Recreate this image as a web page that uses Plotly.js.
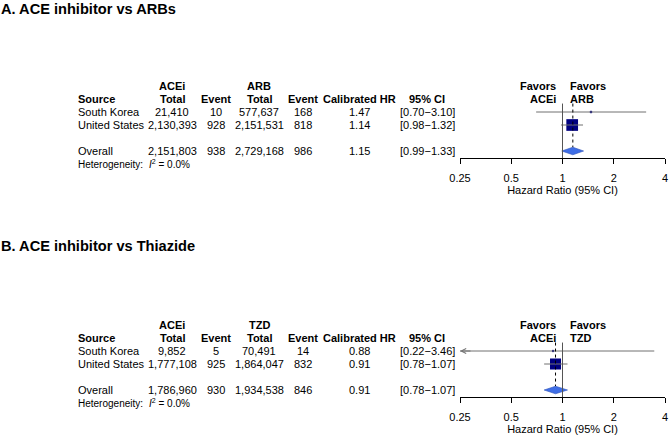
<!DOCTYPE html>
<html><head><meta charset="utf-8">
<script src="https://cdn.plot.ly/plotly-3.0.1.min.js"></script>
<style>html,body{margin:0;padding:0;background:#fff}</style>
</head><body><div id="chart" style="width:669px;height:436px"></div>
<script>
// ---------------- DATA ----------------
const panelTitles = ['A. ACE inhibitor vs ARBs', 'B. ACE inhibitor vs Thiazide'];
const comparators = ['ARB', 'TZD'];
const sources = ['South Korea', 'United States'];
const overallLabel = 'Overall';

// Panel A: ACEi vs ARB
const aceTotalA = [21410, 2130393];
const aceEventA = [10, 928];
const cmpTotalA = [577637, 2151531];
const cmpEventA = [168, 818];
const hrA = [1.47, 1.14];
const loA = [0.70, 0.98];
const hiA = [3.10, 1.32];
const overallA = {aceTotal: 2151803, aceEvent: 938, cmpTotal: 2729168, cmpEvent: 986, hr: 1.15, lo: 0.99, hi: 1.33, i2: 0.0};

// Panel B: ACEi vs Thiazide
const aceTotalB = [9852, 1777108];
const aceEventB = [5, 925];
const cmpTotalB = [70491, 1864047];
const cmpEventB = [14, 832];
const hrB = [0.88, 0.91];
const loB = [0.22, 0.78];
const hiB = [3.46, 1.07];
const overallB = {aceTotal: 1786960, aceEvent: 930, cmpTotal: 1934538, cmpEvent: 846, hr: 0.91, lo: 0.78, hi: 1.07, i2: 0.0};

const tickVals = [0.25, 0.5, 1, 2, 4];
const tickText = ['0.25', '0.5', '1', '2', '4'];
const nullValue = 1;

// ---------------- LAYOUT CONSTANTS ----------------
const W = 669, H = 436;
const FONT = 'Liberation Sans, Arial, Helvetica, sans-serif';
const rowH = 13;
const row0Px = [112, 351];
const titleTopPx = [0, 237];
const colX = {source: 76, aceTotal: 172, aceEvent: 216, cmpTotal: 259, cmpEvent: 302.5, hr: 359, ci: 427.5, het2: 146.5};
const plotLeft = 460, plotRight = 665;
const topOff = 32, axisOff = 46, botOff = 62;

const panels = [
  {aceTotal: aceTotalA, aceEvent: aceEventA, cmpTotal: cmpTotalA, cmpEvent: cmpEventA, hr: hrA, lo: loA, hi: hiA, overall: overallA},
  {aceTotal: aceTotalB, aceEvent: aceEventB, cmpTotal: cmpTotalB, cmpEvent: cmpEventB, hr: hrB, lo: loB, hi: hiB, overall: overallB}
];

const fmtN = v => v.toLocaleString('en-US');
const fmtCI = (l, h) => '[' + l.toFixed(2) + '\u2212' + h.toFixed(2) + ']';
const px = x => x / W;

const traces = [];
const annotations = [];
const shapes = [];
const layout = {
  width: W, height: H,
  margin: {l: 0, r: 0, t: 0, b: 0},
  paper_bgcolor: '#fff', plot_bgcolor: 'rgba(0,0,0,0)',
  showlegend: false,
  font: {family: FONT, size: 11, color: '#000'}
};

// weight-based square size (inverse variance)
const wOf = (l, h) => { const se = (Math.log(h) - Math.log(l)) / (2 * 1.959964); return 1 / (se * se); };
const sizeK = 0.889;

panels.forEach((p, i) => {
  const xa = i === 0 ? 'x' : 'x2', ya = i === 0 ? 'y' : 'y2';
  const xk = i === 0 ? 'xaxis' : 'xaxis2', yk = i === 0 ? 'yaxis' : 'yaxis2';
  const r0 = row0Px[i];
  layout[xk] = {
    type: 'log', domain: [px(plotLeft), px(plotRight)],
    range: [Math.log10(tickVals[0]), Math.log10(tickVals[tickVals.length - 1])],
    tickvals: tickVals, ticktext: tickText,
    ticks: 'outside', ticklen: 5, tickwidth: 1, tickcolor: '#000',
    showline: true, linecolor: '#000', linewidth: 1,
    showgrid: false, zeroline: false, anchor: 'free', position: 1 - (r0 + axisOff) / H,
    fixedrange: true, ticklabelstandoff: 5,
    tickfont: {size: 11, color: '#000'},
    title: {text: 'Hazard Ratio (95% CI)', font: {size: 11, color: '#000'}, standoff: 2}
  };
  layout[yk] = {
    domain: [1 - (r0 + botOff) / H, 1 - (r0 - topOff) / H],
    range: [botOff / rowH, -topOff / rowH], autorange: false,
    showline: false, showgrid: false, zeroline: false, showticklabels: false, ticks: '',
    anchor: xa, fixedrange: true
  };
  const n = p.hr.length;
  const ovRow = n + 1, hetRow = n + 2;

  // null line and overall dotted line
  shapes.push({type: 'line', xref: xa, yref: ya, x0: nullValue, x1: nullValue, y0: -0.65, y1: axisOff / rowH, line: {color: '#555', width: 1}});
  shapes.push({type: 'line', xref: xa, yref: ya, x0: p.overall.hr, x1: p.overall.hr, y0: -0.65, y1: ovRow - 0.3, line: {color: '#000', width: 1, dash: 'dot'}});

  // squares
  traces.push({
    type: 'scatter', mode: 'markers', xaxis: xa, yaxis: ya,
    x: p.hr, y: p.hr.map((_, k) => k),
    marker: {symbol: 'square', color: '#000080', opacity: 1, size: p.hr.map((_, k) => Math.max(2.2, sizeK * Math.sqrt(wOf(p.lo[k], p.hi[k])))), line: {width: 0}},
    cliponaxis: false, hoverinfo: 'skip'
  });
  // CI lines
  p.hr.forEach((h, k) => {
    traces.push({type: 'scatter', mode: 'lines', xaxis: xa, yaxis: ya, x: [p.lo[k], p.hi[k]], y: [k, k], line: {color: '#707070', width: 1}, hoverinfo: 'skip'});
    if (p.lo[k] < tickVals[0]) {
      annotations.push({xref: xa, yref: ya, x: Math.log10(tickVals[0]), y: k, ax: 12, ay: 0, text: '', showarrow: true, arrowhead: 5, arrowsize: 1, arrowwidth: 1, arrowcolor: '#707070'});
    }
    if (p.hi[k] > tickVals[tickVals.length - 1]) {
      annotations.push({xref: xa, yref: ya, x: Math.log10(tickVals[tickVals.length - 1]), y: k, ax: -12, ay: 0, text: '', showarrow: true, arrowhead: 5, arrowsize: 1, arrowwidth: 1, arrowcolor: '#707070'});
    }
  });
  // overall diamond
  const o = p.overall, dh = 0.29;
  traces.push({
    type: 'scatter', mode: 'lines', xaxis: xa, yaxis: ya,
    x: [o.lo, o.hr, o.hi, o.hr, o.lo], y: [ovRow, ovRow - dh, ovRow, ovRow + dh, ovRow],
    fill: 'toself', fillcolor: '#3f6ee6', line: {color: '#2a4fb8', width: 0.6}, hoverinfo: 'skip'
  });

  // Favors labels
  const fav = (txt, row, left) => annotations.push({xref: xa, yref: ya, x: Math.log10(nullValue), y: row, text: '<b>' + txt + '</b>', showarrow: false, xanchor: left ? 'left' : 'right', xshift: left ? 5 : -5, yanchor: 'middle', font: {size: 11}});
  fav('Favors', -2, false); fav('ACEi', -1, false);
  fav('Favors', -2, true); fav(comparators[i], -1, true);

  // table text
  const t = (x, row, txt, anchor, opts) => annotations.push(Object.assign({xref: 'paper', yref: ya, x: px(x), y: row, text: txt, showarrow: false, xanchor: anchor || 'center', yanchor: 'middle', font: {size: 11, color: '#000'}}, opts || {}));
  t(colX.aceTotal, -2, '<b>ACEi</b>');
  t(colX.cmpTotal, -2, '<b>' + comparators[i] + '</b>');
  t(colX.source, -1, '<b>Source</b>', 'left');
  t(colX.aceTotal, -1, '<b>Total</b>');
  t(colX.aceEvent, -1, '<b>Event</b>');
  t(colX.cmpTotal, -1, '<b>Total</b>');
  t(colX.cmpEvent, -1, '<b>Event</b>');
  t(colX.hr, -1, '<b>Calibrated HR</b>');
  t(colX.ci, -1, '<b>95% CI</b>');
  sources.forEach((s, k) => {
    t(colX.source, k, s, 'left');
    t(colX.aceTotal, k, fmtN(p.aceTotal[k]));
    t(colX.aceEvent, k, fmtN(p.aceEvent[k]));
    t(colX.cmpTotal, k, fmtN(p.cmpTotal[k]));
    t(colX.cmpEvent, k, fmtN(p.cmpEvent[k]));
    t(colX.hr, k, p.hr[k].toFixed(2));
    t(colX.ci, k, fmtCI(p.lo[k], p.hi[k]));
  });
  t(colX.source, ovRow, overallLabel, 'left');
  t(colX.aceTotal, ovRow, fmtN(o.aceTotal));
  t(colX.aceEvent, ovRow, fmtN(o.aceEvent));
  t(colX.cmpTotal, ovRow, fmtN(o.cmpTotal));
  t(colX.cmpEvent, ovRow, fmtN(o.cmpEvent));
  t(colX.hr, ovRow, o.hr.toFixed(2));
  t(colX.ci, ovRow, fmtCI(o.lo, o.hi));
  t(colX.source, hetRow, 'Heterogeneity:', 'left', {font: {size: 10, color: '#000'}});
  t(colX.het2, hetRow, '<i>I</i><sup>2</sup> = ' + o.i2.toFixed(1) + '%', 'left', {font: {size: 10, color: '#000'}});

  // panel title
  annotations.push({xref: 'paper', yref: 'paper', x: 0, y: 1 - titleTopPx[i] / H, xanchor: 'left', yanchor: 'top', borderpad: 0, showarrow: false, text: '<b>' + panelTitles[i] + '</b>', font: {size: 14.6, color: '#000'}});
});

layout.annotations = annotations;
layout.shapes = shapes;
Plotly.newPlot('chart', traces, layout, {staticPlot: true, displayModeBar: false});
</script></body></html>
